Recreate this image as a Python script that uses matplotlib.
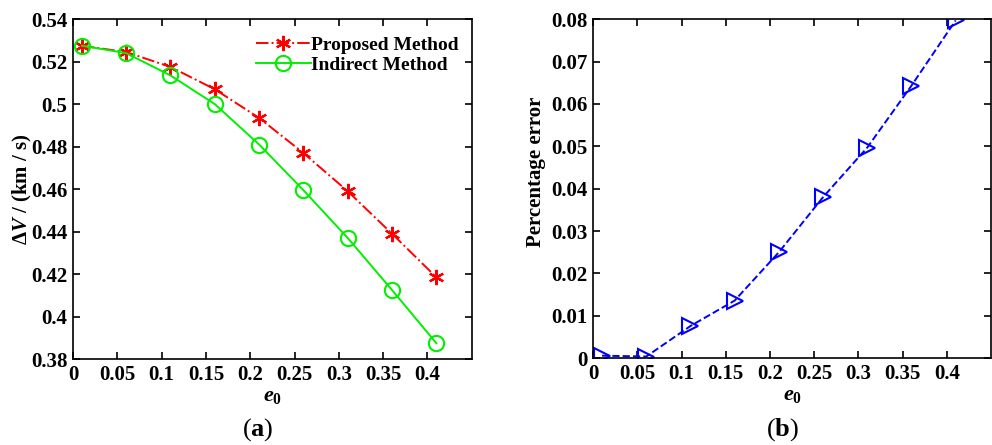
import numpy as np
import matplotlib.pyplot as plt

plt.rcParams['font.family'] = 'Liberation Serif'
plt.rcParams['font.weight'] = 'bold'
plt.rcParams['axes.labelweight'] = 'bold'
plt.rcParams['mathtext.fontset'] = 'custom'
plt.rcParams['mathtext.rm'] = 'Liberation Serif:bold'
plt.rcParams['mathtext.it'] = 'Liberation Serif:italic:bold'
plt.rcParams['mathtext.bf'] = 'Liberation Serif:bold'

e0 = [0.01, 0.06, 0.11, 0.16, 0.21, 0.26, 0.31, 0.36, 0.41]
dv_proposed = [0.5275, 0.5245, 0.5175, 0.507, 0.4935, 0.477, 0.459, 0.439, 0.4185]
dv_indirect = [0.5275, 0.524, 0.5135, 0.500, 0.481, 0.4595, 0.437, 0.4125, 0.3875]
pct_error = [0.0006, 0.0004, 0.0076, 0.0136, 0.025, 0.038, 0.0497, 0.0643, 0.0797]

xticks = [0, 0.05, 0.1, 0.15, 0.2, 0.25, 0.3, 0.35, 0.4]
xticklabels = ['0', '0.05', '0.1', '0.15', '0.2', '0.25', '0.3', '0.35', '0.4']
yticks_a = [0.38, 0.4, 0.42, 0.44, 0.46, 0.48, 0.5, 0.52, 0.54]
yticklabels_a = ['0.38', '0.4', '0.42', '0.44', '0.46', '0.48', '0.5', '0.52', '0.54']
yticks_b = [0, 0.01, 0.02, 0.03, 0.04, 0.05, 0.06, 0.07, 0.08]
yticklabels_b = ['0', '0.01', '0.02', '0.03', '0.04', '0.05', '0.06', '0.07', '0.08']

fig = plt.figure(figsize=(9.92, 4.45), dpi=100)
ax1 = fig.add_axes([0.0736, 0.193, 0.402, 0.764])
ax2 = fig.add_axes([0.598, 0.195, 0.401, 0.762])

ax1.plot(e0, dv_proposed, '-.', color='red', marker=(6, 2, 0), markersize=11, mew=1.6, lw=1.4,
         label='Proposed Method')
ax1.plot(e0, dv_indirect, '-', color='#00f000', marker='o', markersize=11, mfc='none', mew=1.5, lw=1.4,
         label='Indirect Method')
ax1.set_xlim(0, 0.45)
ax1.set_ylim(0.38, 0.54)
ax1.set_yticks(yticks_a)
ax1.set_yticklabels(yticklabels_a)
ax1.set_ylabel(r'$\Delta V$ / (km / s)', fontsize=15)
ax1.yaxis.set_label_coords(-0.098, 0.5)
ax1.legend(loc='upper right', bbox_to_anchor=(1.0, 0.99), frameon=False, fontsize=14, handlelength=2.8,
           handletextpad=0.0, labelspacing=0.15, borderaxespad=0.3)

ax2.plot(e0, pct_error, '--', color='blue', marker='>', markersize=11, mfc='none', mew=1.5, lw=1.4)
ax2.set_xlim(0, 0.45)
ax2.set_ylim(0, 0.08)
ax2.set_yticks(yticks_b)
ax2.set_yticklabels(yticklabels_b)
ax2.set_ylabel('Percentage error', fontsize=15)
ax2.yaxis.set_label_coords(-0.118, 0.55)

for ax in (ax1, ax2):
    ax.set_xticks(xticks)
    ax.set_xticklabels(xticklabels)
    ax.set_xlabel(r'$e_0$', fontsize=16, labelpad=1)
    ax.tick_params(direction='in', top=True, right=True, labelsize=15, length=5, width=1.2, pad=4)
    for s in ax.spines.values():
        s.set_linewidth(1.2)

fig.text(0.26, 0.035, r'($\mathbf{a}$)', ha='center', va='center', fontsize=19, fontweight='normal')
fig.text(0.789, 0.035, r'($\mathbf{b}$)', ha='center', va='center', fontsize=19, fontweight='normal')

fig.savefig('out.png', dpi=100)
